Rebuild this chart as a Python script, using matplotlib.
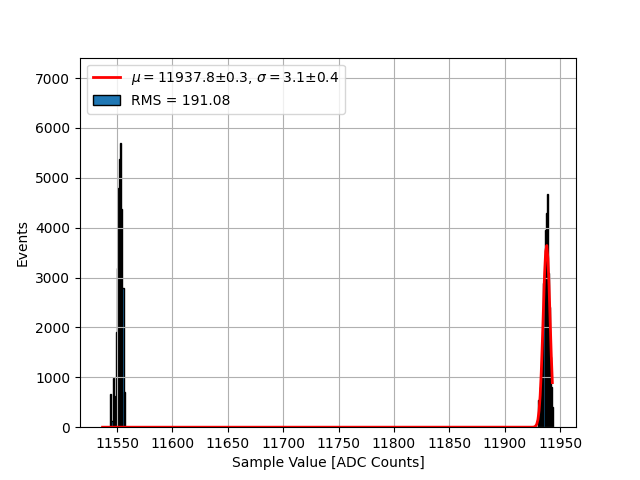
import numpy as np
import matplotlib.pyplot as plt

# histogram: 1 ADC count per bin, only non-empty bins listed
bin_lo, bin_hi = 11539, 11944
adc_values = [11544, 11545, 11546, 11547, 11548, 11549, 11550, 11551, 11552,
              11553, 11554, 11555, 11556,
              11930, 11931, 11932, 11933, 11934, 11935, 11936, 11937, 11938,
              11939, 11940, 11941, 11942, 11943]
events = [660, 120, 980, 250, 620, 1900, 3200, 4800, 5380,
          5700, 4380, 2800, 700,
          550, 200, 800, 950, 1600, 2900, 3950, 4300, 4680,
          3100, 2400, 1400, 800, 400]

# gaussian fit result
mu, mu_err = 11937.8, 0.3
sigma, sigma_err = 3.1, 0.4
amp = 3650
rms = 191.08

edges = np.arange(bin_lo, bin_hi + 1)

fig, ax = plt.subplots(figsize=(6.4, 4.8))
_, _, bars = ax.hist(adc_values, bins=edges, weights=events, edgecolor="black")

x_fit = np.arange(bin_lo - 2, bin_hi, 1.0)
y_fit = amp * np.exp(-0.5 * ((x_fit - mu) / sigma) ** 2)
line, = ax.plot(x_fit, y_fit, color="red", lw=2)

fit_label = rf"$\mu = ${mu}±{mu_err}, $\sigma = ${sigma}±{sigma_err}"
rms_label = f"RMS = {rms:.2f}"

ax.set_ylim(0, max(events) * 1.3)
ax.set_xlabel("Sample Value [ADC Counts]")
ax.set_ylabel("Events")
ax.grid(True)
ax.legend([line, bars[0]], [fit_label, rms_label], loc="upper left")
fig.savefig("out.png", dpi=100)
